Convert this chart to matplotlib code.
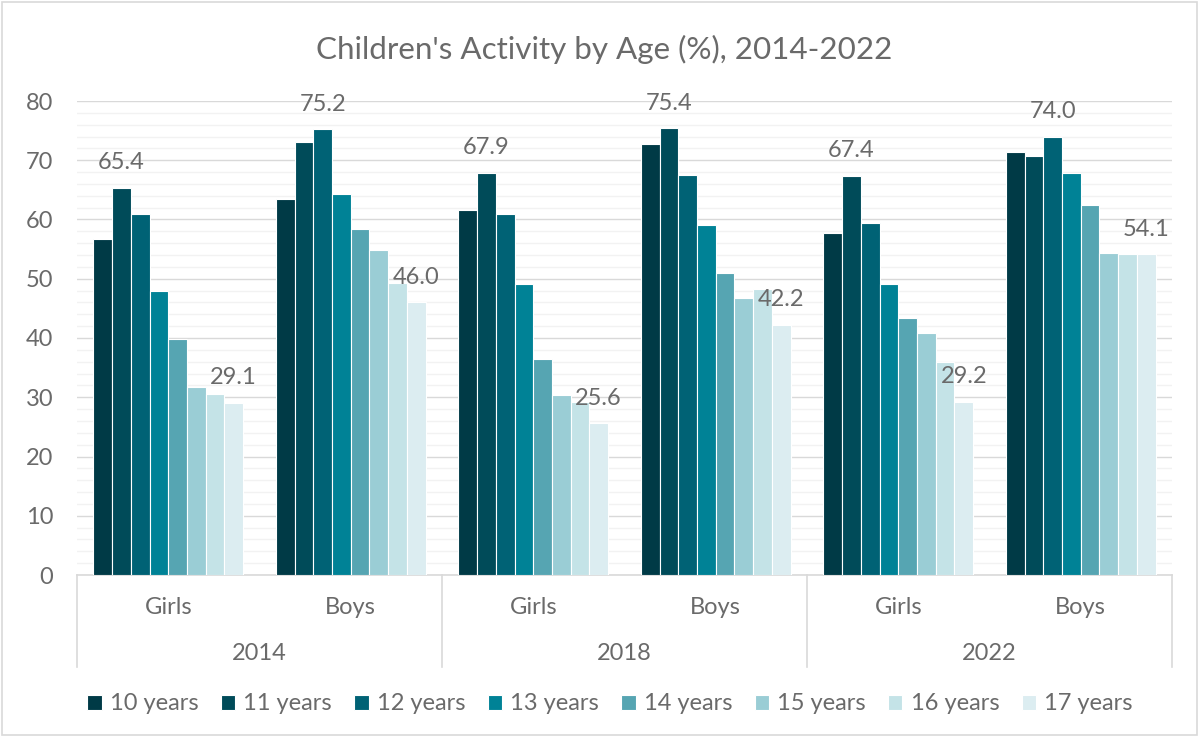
import matplotlib
matplotlib.use("Agg")
import matplotlib.pyplot as plt
from matplotlib.patches import Rectangle
from matplotlib.ticker import MultipleLocator
import matplotlib.transforms as mtransforms
import numpy as np

plt.rcParams['font.family'] = ['Lato', 'DejaVu Sans']
plt.rcParams['font.weight'] = 'normal'

title = "Children's Activity by Age (%), 2014-2022"
years = ["2014", "2018", "2022"]
genders = ["Girls", "Boys"]
series_names = ["10 years", "11 years", "12 years", "13 years",
                "14 years", "15 years", "16 years", "17 years"]
colors = ["#003A46", "#004B59", "#006275", "#008296",
          "#56A5B2", "#9ACDD5", "#C4E3E7", "#DCEDF1"]

# values per group (2014 Girls, 2014 Boys, 2018 Girls, 2018 Boys, 2022 Girls, 2022 Boys)
age10 = [56.7, 63.5, 61.6, 72.7, 57.7, 71.4]
age11 = [65.4, 73.1, 67.9, 75.4, 67.4, 70.7]
age12 = [60.9, 75.2, 60.9, 67.5, 59.4, 74.0]
age13 = [47.9, 64.3, 49.1, 59.0, 49.1, 67.8]
age14 = [39.8, 58.4, 36.4, 51.0, 43.4, 62.4]
age15 = [31.8, 54.9, 30.4, 46.8, 40.9, 54.3]
age16 = [30.5, 49.3, 29.2, 48.3, 35.9, 54.2]
age17 = [29.1, 46.0, 25.6, 42.2, 29.2, 54.1]
series = [age10, age11, age12, age13, age14, age15, age16, age17]

text_color = "#6A6A6A"
W, H = 1198, 736
fig = plt.figure(figsize=(W / 100, H / 100), dpi=100)
ax = fig.add_axes([77 / W, 1 - 575 / H, (1172 - 77) / W, (575 - 101) / H])

n_groups = len(age10)
x = np.arange(n_groups)
n_series = len(series)
bw = 0.82 / n_series

for i, (vals, c, name) in enumerate(zip(series, colors, series_names)):
    pos = x + (i - (n_series - 1) / 2) * bw
    ax.bar(pos, vals, width=bw, color=c, edgecolor="white", linewidth=0.8,
           label=name, zorder=3)

# data labels: highest bar and 17-year bar of each group
for g in range(n_groups):
    vals = [s[g] for s in series]
    imax = int(np.argmax(vals))
    for i in sorted({imax, n_series - 1}):
        pos = g + (i - (n_series - 1) / 2) * bw
        ax.annotate(f"{vals[i]:.1f}", (pos, vals[i]), xytext=(0, 18),
                    textcoords="offset points", ha="center", va="center",
                    fontsize=17, color=text_color, zorder=4)

ax.set_xlim(-0.5, n_groups - 0.5)
ax.set_ylim(0, 80)
ax.yaxis.set_major_locator(MultipleLocator(10))
ax.yaxis.set_minor_locator(MultipleLocator(2))
ax.grid(which="minor", axis="y", color="#F2F2F2", linewidth=1.0, zorder=0)
ax.grid(which="major", axis="y", color="#D9D9D9", linewidth=1.0, zorder=1)
ax.tick_params(axis="y", which="both", length=0, pad=17, labelsize=17,
               labelcolor=text_color)
ax.tick_params(axis="x", which="both", length=0, labelbottom=False)
for s in ["top", "right", "left"]:
    ax.spines[s].set_visible(False)
ax.spines["bottom"].set_color("#D9D9D9")
ax.spines["bottom"].set_linewidth(1.2)
ax.set_xticks([])

# multi-level category axis
trans = mtransforms.blended_transform_factory(ax.transData, ax.transAxes)
px = 1 / (575 - 101)
for g in range(n_groups):
    ax.text(g, -32 * px, genders[g % 2], transform=trans, ha="center",
            va="center", fontsize=17, color=text_color)
for k, yr in enumerate(years):
    ax.text(2 * k + 0.5, -79 * px, yr, transform=trans, ha="center",
            va="center", fontsize=17, color=text_color)
for b in np.arange(-0.5, n_groups, 2):
    ax.plot([b, b], [0, -92 * px], transform=trans, color="#D9D9D9",
            linewidth=1.2, clip_on=False)

fig.text(604 / W, 1 - 49 / H, title, ha="center", va="center",
         fontsize=22.6, color=text_color)

handles, labels = ax.get_legend_handles_labels()
leg = fig.legend(handles, labels, loc="center", bbox_to_anchor=(610 / W, 1 - 704 / H),
                 ncol=n_series, frameon=False, fontsize=17, handlelength=0.6,
                 handleheight=0.6, handletextpad=0.35, columnspacing=0.95,
                 labelcolor=text_color)

fig.add_artist(Rectangle((1.5 / W, 1.5 / H), 1 - 3 / W, 1 - 3 / H,
                         transform=fig.transFigure, fill=False,
                         edgecolor="#D9D9D9", linewidth=1.2))

fig.savefig("out.png", dpi=100)
